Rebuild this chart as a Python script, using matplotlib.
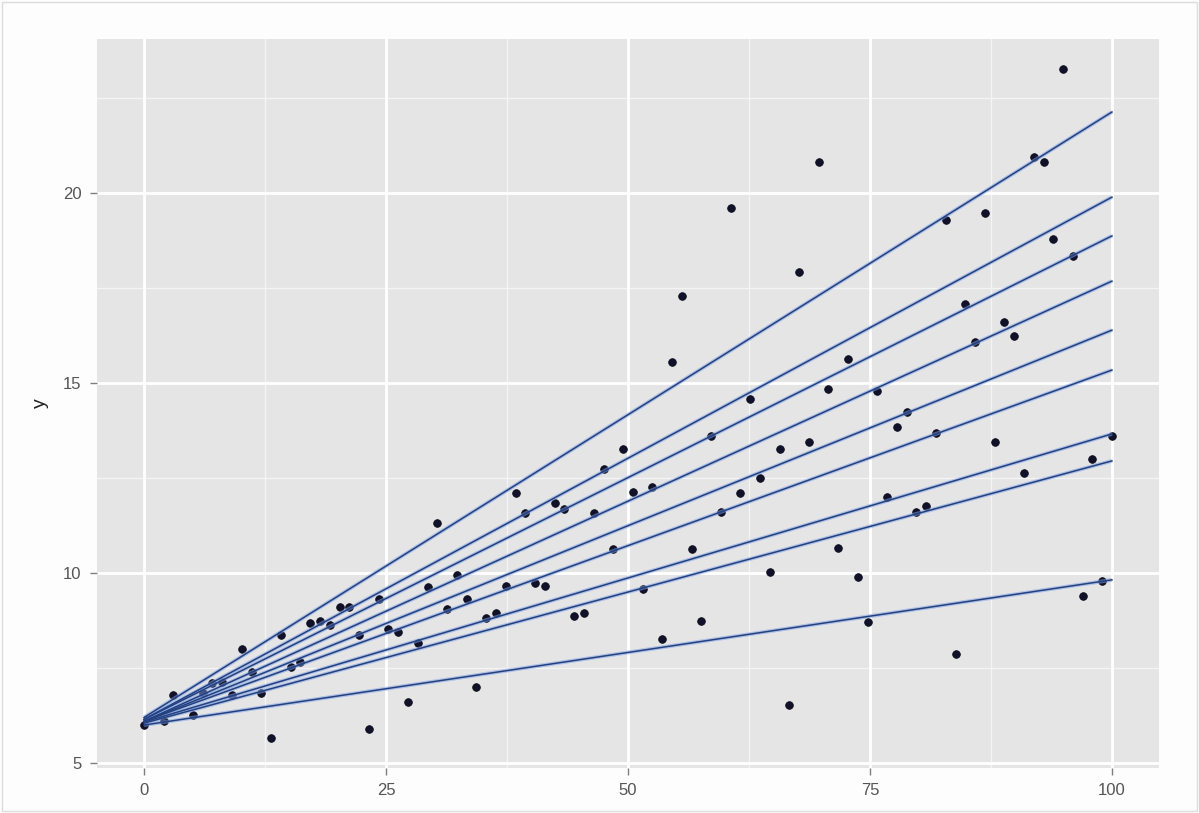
import numpy as np
import matplotlib
matplotlib.use("Agg")
import matplotlib.pyplot as plt
from matplotlib.patches import Rectangle

# ---- data ----
x_vals = [0.0, 2.02, 3.03, 5.05, 6.06, 7.07, 8.08, 9.09, 10.1, 11.11, 12.12, 13.13,
          14.14, 15.15, 16.16, 17.17, 18.18, 19.19, 20.2, 21.21, 22.22, 23.23, 24.24,
          25.25, 26.26, 27.27, 28.28, 29.29, 30.3, 31.31, 32.32, 33.33, 34.34, 35.35,
          36.36, 37.37, 38.38, 39.39, 40.4, 41.41, 42.42, 43.43, 44.44, 45.45, 46.46,
          47.47, 48.48, 49.49, 50.51, 51.52, 52.53, 53.54, 54.55, 55.56, 56.57, 57.58,
          58.59, 59.6, 60.61, 61.62, 62.63, 63.64, 64.65, 65.66, 66.67, 67.68, 68.69,
          69.7, 70.71, 71.72, 72.73, 73.74, 74.75, 75.76, 76.77, 77.78, 78.79, 79.8,
          80.81, 81.82, 82.83, 83.84, 84.85, 85.86, 86.87, 87.88, 88.89, 89.9, 90.91,
          91.92, 92.93, 93.94, 94.95, 95.96, 96.97, 97.98, 98.99, 100.0]
y_vals = [6.0, 6.1, 6.79, 6.26, 6.84, 7.1, 7.13, 6.79, 8.0, 7.39, 6.84, 5.66,
          8.37, 7.53, 7.66, 8.68, 8.74, 8.63, 9.1, 9.1, 8.37, 5.89, 9.32,
          8.53, 8.45, 6.6, 8.16, 9.63, 11.32, 9.05, 9.95, 9.32, 7.0, 8.82,
          8.95, 9.66, 12.1, 11.58, 9.74, 9.66, 11.84, 11.68, 8.87, 8.95, 11.58,
          12.74, 10.63, 13.26, 12.13, 9.58, 12.26, 8.26, 15.55, 17.29, 10.63, 8.74,
          13.6, 11.6, 19.6, 12.1, 14.58, 12.5, 10.03, 13.26, 6.53, 17.92, 13.45,
          20.82, 14.84, 10.66, 15.63, 9.89, 8.71, 14.79, 12.0, 13.84, 14.24, 11.6,
          11.76, 13.68, 19.3, 7.87, 17.08, 16.08, 19.47, 13.45, 16.6, 16.24, 12.63,
          20.95, 20.82, 18.8, 23.26, 18.34, 9.39, 12.99, 9.79, 13.6]

# quantile lines (top to bottom): value at x=0 and at x=100
line_start = [6.2, 6.15, 6.15, 6.1, 6.1, 6.1, 6.08, 6.05, 6.0]
line_end = [22.13, 19.89, 18.87, 17.68, 16.39, 15.34, 13.66, 12.95, 9.82]
line_x = [0, 100]

x_ticks = [0, 25, 50, 75, 100]
y_ticks = [5, 10, 15, 20]
x_minor = [12.5, 37.5, 62.5, 87.5]
y_minor = [7.5, 12.5, 17.5, 22.5]

plt.rcParams['font.family'] = ['Liberation Sans', 'DejaVu Sans']

fig = plt.figure(figsize=(11.99, 8.13), dpi=100, facecolor='#fdfdfd')
ax = fig.add_axes([97/1199, 1 - 768/813, (1159-97)/1199, (768-39)/813])
ax.set_facecolor('#e5e5e5')

ax.set_xlim(-4.86, 104.86)
ax.set_ylim(4.87, 24.05)

for v in x_minor:
    ax.axvline(v, color='#f4f4f4', lw=1.0, zorder=1)
for v in y_minor:
    ax.axhline(v, color='#f4f4f4', lw=1.0, zorder=1)
for v in x_ticks:
    ax.axvline(v, color='white', lw=2.0, zorder=1)
for v in y_ticks:
    ax.axhline(v, color='white', lw=2.0, zorder=1)

ax.scatter(x_vals, y_vals, s=30, color='#11112a', edgecolors='#0a0a1a',
           linewidths=0.6, zorder=3)

for ys, ye in zip(line_start, line_end):
    ax.plot(line_x, [ys, ye], color='#7fa3e8', lw=2.8, alpha=0.55,
            solid_capstyle='butt', zorder=4)
for ys, ye in zip(line_start, line_end):
    ax.plot(line_x, [ys, ye], color='#24407e', lw=1.1, zorder=5)

for s in ax.spines.values():
    s.set_visible(False)

ax.set_xticks(x_ticks)
ax.set_yticks(y_ticks)
ax.set_xticklabels([str(t) for t in x_ticks])
ax.set_yticklabels([str(t) for t in y_ticks])
ax.tick_params(axis='both', colors='#7f7f7f', labelcolor='#555555',
               labelsize=12, length=5, width=1.0, pad=6)

ax.set_ylabel('y', fontsize=14, color='#222222', labelpad=10)

fig.patches.append(Rectangle((0.002, 0.002), 0.996, 0.996, transform=fig.transFigure,
                             fill=False, edgecolor='#dcdcdc', lw=1.0))

fig.savefig('out.png', dpi=100, facecolor=fig.get_facecolor())
